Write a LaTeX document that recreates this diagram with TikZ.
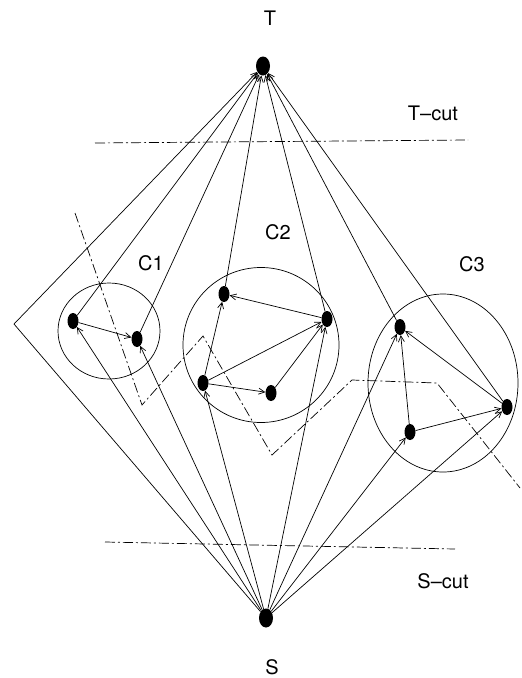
\documentclass[tikz,border=0pt]{standalone}
\usepackage{fontspec}
\setmainfont{TeX Gyre Heros}
\usetikzlibrary{shapes.geometric,arrows.meta}
\begin{document}
\begin{tikzpicture}[x=1pt,y=-1pt,
  vtx/.style={ellipse,fill=black,inner sep=0pt,minimum width=11pt,minimum height=16pt},
  terminal/.style={vtx,minimum width=14pt,minimum height=19pt},
  edge/.style={line width=0.7pt,-{Straight Barb[length=6pt,width=6pt]}},
  cutline/.style={line width=0.7pt,dash pattern=on 10pt off 3pt on 2pt off 3pt},
  lbl/.style={inner sep=0pt,font=\fontsize{20}{24}\selectfont},
  grp/.style={draw,ellipse,line width=0.7pt,inner sep=0pt}]
\useasboundingbox (0,0) rectangle (522,678);

% component outlines
\node[grp,minimum width=102pt,minimum height=96pt] (g1) at (109,331) {};
\node[grp,minimum width=156pt,minimum height=155pt] (g2) at (261,345) {};
\node[grp,minimum width=150pt,minimum height=178pt] (g3) at (443,383) {};

% source and sink
\node[terminal] (T) at (263,66) {};
\node[terminal] (S) at (266,618) {};
\coordinate (bend) at (14,324);

% component vertices
\node[vtx] (a1) at (73,321) {};
\node[vtx] (a2) at (137,339) {};
\node[vtx] (b1) at (224,294) {};
\node[vtx] (b2) at (327,319) {};
\node[vtx] (b3) at (203,383) {};
\node[vtx] (b4) at (271,393) {};
\node[vtx] (c1) at (400,327) {};
\node[vtx] (c2) at (410,432) {};
\node[vtx] (c3) at (507,407) {};

% labels
\node[lbl] (lT) at (270,18) {T};
\node[lbl] (lS) at (272,667) {S};
\node[lbl] (lTcut) at (433,113) {T–cut};
\node[lbl] (lScut) at (443,581) {S–cut};
\node[lbl] (l1) at (151,263) {C1};
\node[lbl] (l2) at (278,232) {C2};
\node[lbl] (l3) at (472,264) {C3};

% cuts
\coordinate (tc1) at (95,143);
\coordinate (tc2) at (468,140);
\coordinate (sc1) at (105,542);
\coordinate (sc2) at (455,549);
\draw[cutline] (tc1) -- (tc2);
\draw[cutline] (sc1) -- (sc2);
\draw[cutline] (75,213) -- (142,405) -- (203,336) -- (272,455) -- (352,380) -- (437,383) -- (520,488);

% edges into T
\draw[edge] (S) -- (bend) -- (T);
\foreach \v in {a1,a2,b1,b2,c1,c3} \draw[edge] (\v) -- (T);

% edges out of S
\foreach \v in {a1,a2,b3,b2,c1,c2,c3} \draw[edge] (S) -- (\v);

% edges inside components
\draw[edge] (a1) -- (a2);
\draw[edge] (b2) -- (b1);
\draw[edge] (b3) -- (b1);
\draw[edge] (b3) -- (b2);
\draw[edge] (b3) -- (b4);
\draw[edge] (b4) -- (b2);
\draw[edge] (c2) -- (c1);
\draw[edge] (c3) -- (c1);
\draw[edge] (c2) -- (c3);
\end{tikzpicture}
\end{document}
